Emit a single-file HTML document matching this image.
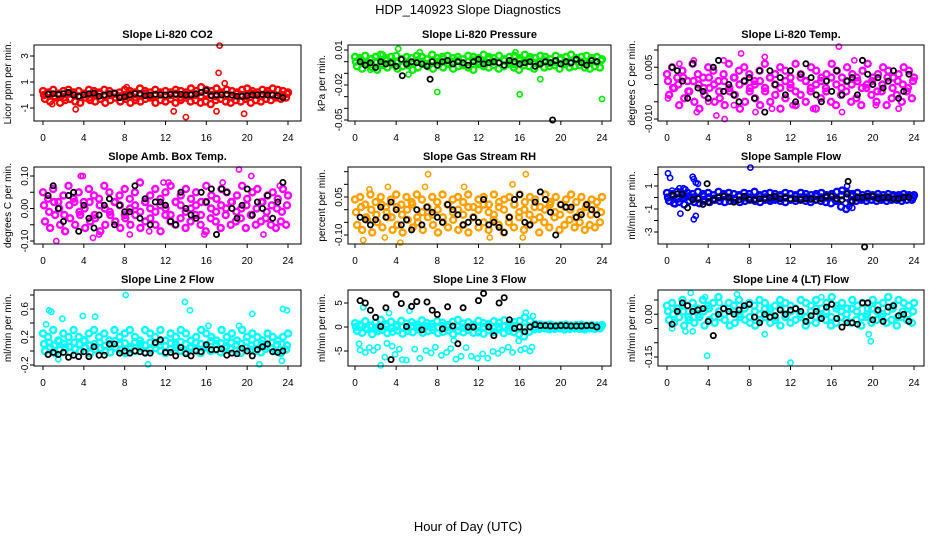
<!DOCTYPE html>
<html><head><meta charset="utf-8">
<style>
html,body{margin:0;padding:0;background:#fff;}
svg{display:block;font-family:"Liberation Sans",sans-serif;}
</style></head>
<body>
<svg id="chart" width="936" height="540" viewBox="0 0 936 540" xmlns="http://www.w3.org/2000/svg">
<text x="468" y="14" text-anchor="middle" font-size="13">HDP_140923  Slope Diagnostics</text>
<text x="468" y="531" text-anchor="middle" font-size="13">Hour of Day (UTC)</text>
</svg>
<script>
// ---- data arrays ----
const xTicks = [0,4,8,12,16,20,24];
const titles = ["Slope Li-820 CO2","Slope Li-820 Pressure","Slope Li-820 Temp.","Slope Amb. Box Temp.","Slope Gas Stream RH","Slope Sample Flow","Slope Line 2 Flow","Slope Line 3 Flow","Slope Line 4 (LT) Flow"];
const yTitles = ["Licor ppm per min.","kPa per min.","degrees C per min.","degrees C per min.","percent per min.","ml/min per min.","ml/min per min.","ml/min per min.","ml/min per min."];
const colors = ["#ff0000","#00ee00","#ff00ff","#ff00ff","#ffa000","#0000ff","#00ffff","#00ffff","#00ffff"];

const yTicks1=[-1,0,1,2,3], yLabels1=["-1","","1","","3"];
const yTicks2=[0.01,0,-0.01,-0.02,-0.03,-0.04,-0.05], yLabels2=["0.01","","","-0.02","","","-0.05"];
const yTicks3=[0.01,0.005,0,-0.005,-0.01], yLabels3=["","0.005","","","-0.010"];
const yTicks4=[0.1,0.05,0,-0.05,-0.1], yLabels4=["0.10","","0.00","","-0.10"];
const yTicks5=[0.15,0.1,0.05,0,-0.05,-0.1], yLabels5=["","","0.05","","","-0.10"];
const yTicks6=[2,1,0,-1,-2,-3], yLabels6=["","1","","-1","","-3"];
const yTicks7=[0.8,0.6,0.4,0.2,0,-0.2], yLabels7=["","0.6","","0.2","","-0.2"];
const yTicks8=[5,0,-5], yLabels8=["5","0","-5"];
const yTicks9=[0.05,0,-0.05,-0.1,-0.15], yLabels9=["","0.00","","","-0.15"];

const ca1=[0.3,0.2,0.4,0.1,0.3,0.4,0.2,0.3,0.1,0.4,0.3,0.2,0.4,0.3,0.1,0.2,0.4,0.3,0.2,0.5,0.3,0.2,0.4,0.1,0.3,0.2,0.4,0.3,0.2,0.5,0.3,0.6,0.4,0.3,0.5,0.2,0.4,0.3,0.2,0.4,0.5,0.3,0.2,0.4,0.3,0.5,0.4,0.3,0.2];
const cb1=[-0.3,-0.5,-0.2,-0.6,-0.4,-0.3,-0.5,-0.6,-0.2,-0.4,-0.5,-0.3,-0.6,-0.4,-0.2,-0.5,-0.3,-0.6,-0.4,-0.5,-0.3,-0.2,-0.6,-0.4,-0.5,-0.3,-0.6,-0.4,-0.2,-0.5,-0.4,-0.6,-0.5,-0.7,-0.4,-0.3,-0.5,-0.6,-0.4,-0.5,-0.3,-0.6,-0.4,-0.5,-0.3,-0.4,-0.2,-0.3,-0.2];
const cc1=[0,0.1,-0.1,0,-0.2,0.1,0,-0.1,0.1,-0.2,0,0.1,-0.1,0,0.1,-0.1,0,0.1,-0.2,0,0.1,-0.1,0,0.2,-0.1,0,0.1,-0.2,0,0.1,0,-0.1,0.1,0,-0.1,0.1,0,-0.2,0.1,0,-0.1,0.1,0,-0.1,0.1,0,-0.1,0,0.1];
const ox1=[17.3,17.2,3.2,12.8,14,17,19.7,17.8,8.2,0.9];
const oy1=[3.8,1.7,-1.1,-1.25,-1.7,-1.25,-1.45,0.9,0.6,-0.7];
const k1=[0.05,0.1,0.05,0.1,0.2,0,-0.1,0,0.1,0.15,-0.1,0,0.1,0.15,-0.2,-0.15,0,0.1,0.1,-0.05,0,0.05,0,0,0.05,0.05,0.05,0,0,0.1,0.2,0.35,-0.05,0,0,0.05,0,-0.1,-0.1,-0.05,0,0,0.05,0,0,-0.05,-0.2];
const kox1=[], koy1=[];

const ca2=[0.004,0.003,0.005,0.002,0.004,0.006,0.003,0.004,0.005,0.002,0.004,0.003,0.005,0.004,0.002,0.006,0.003,0.004,0.005,0.003,0.004,0.002,0.005,0.004,0.003,0.006,0.004,0.003,0.005,0.002,0.004,0.005,0.003,0.006,0.004,0.003,0.005,0.004,0.002,0.005,0.003,0.004,0.006,0.003,0.004,0.005,0.003,0.004,0.002];
const cb2=[-0.004,-0.006,-0.002,-0.005,-0.007,-0.003,-0.005,-0.002,-0.006,-0.004,-0.003,-0.007,-0.005,-0.002,-0.004,-0.006,-0.003,-0.005,-0.002,-0.006,-0.004,-0.003,-0.005,-0.007,-0.002,-0.004,-0.005,-0.003,-0.006,-0.004,-0.002,-0.005,-0.007,-0.003,-0.004,-0.006,-0.002,-0.005,-0.004,-0.003,-0.006,-0.002,-0.005,-0.004,-0.003,-0.005,-0.006,-0.004,-0.005];
const cc2=[0,0.001,-0.001,0.002,0,-0.002,0.001,0,-0.001,0.002,0,-0.001,0.001,0,-0.002,0.001,0,0.002,-0.001,0,0.001,-0.002,0,0.001,0,-0.001,0.002,0,-0.001,0.001,0,-0.002,0.001,0,0.002,-0.001,0,0.001,-0.001,0,0.002,0,-0.001,0.001,0,-0.002,0.001,0,0.001];
const ox2=[4.2,6.3,16,24,8,18,2.7,5.2,1.5,15.6];
const oy2=[0.011,0.008,-0.028,-0.032,-0.026,-0.015,0.006,-0.011,-0.007,0.008];
const k2=[0,-0.003,-0.001,-0.005,0,-0.002,-0.001,-0.004,0.002,-0.002,0,-0.001,-0.002,-0.004,0,-0.003,0,0.001,-0.002,0,-0.001,-0.003,0,0.002,-0.002,-0.001,0,-0.001,-0.003,0.001,0,-0.002,-0.001,0,-0.004,-0.002,0,-0.001,0.001,-0.002,0,-0.001,0.002,-0.001,-0.003,0.001,0];
const kox2=[19.2,4.6,7.3], koy2=[-0.05,-0.012,-0.015];

const ca3=[0.003,0.005,0.002,0.004,0.001,0.006,0.003,0.002,0.005,0.004,0.001,0.003,0.006,0.002,0.004,0.005,0.003,0.001,0.004,0.006,0.002,0.003,0.005,0.004,0.002,0.006,0.003,0.001,0.005,0.004,0.002,0.003,0.006,0.004,0.002,0.005,0.003,0.001,0.004,0.006,0.002,0.003,0.005,0.004,0.002,0.003,0.005,0.004,0.002];
const cb3=[-0.003,-0.001,-0.006,-0.004,-0.002,-0.005,-0.007,-0.003,-0.001,-0.005,-0.004,-0.006,-0.002,-0.003,-0.007,-0.005,-0.001,-0.004,-0.006,-0.002,-0.005,-0.003,-0.007,-0.004,-0.001,-0.006,-0.003,-0.005,-0.002,-0.007,-0.004,-0.001,-0.005,-0.006,-0.003,-0.002,-0.005,-0.004,-0.006,-0.001,-0.003,-0.005,-0.002,-0.006,-0.004,-0.003,-0.005,-0.002,-0.004];
const cc3=[0.001,-0.001,0,0.002,-0.002,0.001,0,-0.001,0.002,0,-0.002,0.001,-0.001,0.002,0,0.001,-0.002,0,0.001,-0.001,0.002,0,-0.001,0.001,0,-0.002,0.002,0.001,-0.001,0,0.001,-0.002,0.002,0,-0.001,0.001,0,0.002,-0.001,0,0.001,-0.002,0,0.002,-0.001,0.001,0,-0.001,0.001];
const ox3=[7.2,16.7,5.6,4.8,2.9,17,10.2,0.1,2.6,5.5,14.2,9.5,12.2,20.3,22.5,8.6,4,6.5,1.2,18.2];
const oy3=[0.009,0.011,-0.010,-0.009,-0.008,-0.008,-0.007,-0.004,0.007,0.007,-0.007,0.008,-0.006,-0.006,-0.007,-0.008,-0.005,-0.006,0.006,0.007];
const k3=[0.005,0.004,0.001,-0.004,0.006,-0.001,-0.002,-0.004,0.005,0.007,-0.002,0.000,-0.003,-0.005,0.001,0.002,-0.004,0.004,-0.008,0.004,0,0.002,-0.003,0.004,-0.005,0.003,0.006,0.002,-0.003,-0.005,0.001,-0.002,0.004,-0.003,0.001,0.002,-0.003,0.007,0.003,0,0.002,-0.001,0.001,0.004,-0.004,-0.002,0.003];
const kox3=[], koy3=[];

const ca4=[0.05,0.03,0.06,0.02,0.04,0.07,0.03,0.05,0.02,0.06,0.04,0.03,0.07,0.05,0.02,0.04,0.06,0.03,0.05,0.08,0.02,0.04,0.06,0.03,0.05,0.07,0.02,0.04,0.06,0.03,0.05,0.02,0.07,0.04,0.03,0.06,0.05,0.02,0.04,0.07,0.03,0.05,0.06,0.02,0.04,0.05,0.03,0.06,0.04];
const cb4=[-0.04,-0.06,-0.02,-0.05,-0.07,-0.03,-0.05,-0.02,-0.06,-0.04,-0.03,-0.07,-0.05,-0.02,-0.04,-0.06,-0.03,-0.05,-0.02,-0.06,-0.04,-0.03,-0.05,-0.07,-0.02,-0.04,-0.05,-0.03,-0.06,-0.04,-0.02,-0.05,-0.07,-0.03,-0.04,-0.06,-0.02,-0.05,-0.04,-0.03,-0.06,-0.02,-0.05,-0.04,-0.03,-0.05,-0.06,-0.04,-0.05];
const cc4=[0.01,-0.01,0.02,0,-0.02,0.01,0.02,-0.01,0,0.02,-0.02,0.01,0,-0.01,0.02,0.01,-0.02,0,0.01,-0.01,0.02,0,-0.01,0.01,0,-0.02,0.02,0.01,-0.01,0,0.01,-0.02,0.02,0,-0.01,0.01,0,0.02,-0.01,0,0.01,-0.02,0,0.02,-0.01,0.01,0,-0.01,0.01];
const ox4=[1.3,3.7,3.9,19.2,5.5,11.8,15.8,20.4,8.5,21.6,12.3,2.2,10.4,17.6,4.9,23.2];
const oy4=[-0.10,0.10,0.10,0.12,-0.08,0.08,-0.08,0.10,-0.08,-0.08,0.08,-0.07,-0.07,0.08,-0.09,0.07];
const k4=[0.04,0.07,0,-0.04,0.04,0.05,-0.07,0.01,-0.03,-0.06,-0.02,0.01,0.03,-0.05,0.01,-0.01,-0.01,0.07,-0.03,0.03,-0.05,0.02,0.02,0.01,-0.04,-0.05,0.05,0,-0.02,-0.03,0.05,0.02,0.06,-0.08,0.06,0.05,0,-0.03,0.01,0.06,-0.02,0.02,0,0.04,-0.03,0.02,0.08];
const kox4=[], koy4=[];

const ca5=[0.04,0.05,0.02,0.06,0.03,0.05,0.01,0.04,0.06,0.02,0.05,0.03,0.06,0.04,0.01,0.05,0.03,0.06,0.02,0.04,0.05,0.03,0.06,0.01,0.04,0.05,0.02,0.06,0.03,0.04,0.05,0.02,0.06,0.03,0.05,0.04,0.01,0.06,0.03,0.05,0.02,0.04,0.06,0.03,0.05,0.02,0.04,0.03,0.05];
const cb5=[-0.06,-0.08,-0.04,-0.09,-0.05,-0.07,-0.03,-0.08,-0.06,-0.09,-0.04,-0.07,-0.05,-0.08,-0.03,-0.06,-0.09,-0.05,-0.07,-0.04,-0.08,-0.06,-0.09,-0.03,-0.07,-0.05,-0.08,-0.04,-0.06,-0.09,-0.05,-0.07,-0.03,-0.08,-0.06,-0.04,-0.09,-0.05,-0.07,-0.03,-0.08,-0.06,-0.04,-0.07,-0.05,-0.08,-0.06,-0.07,-0.05];
const cc5=[-0.01,0.01,-0.03,0,-0.02,0.02,-0.01,-0.03,0.01,-0.02,0,0.02,-0.03,-0.01,0.01,-0.02,0,-0.03,0.02,-0.01,0,-0.02,0.01,-0.03,0,0.02,-0.01,-0.02,0.01,0,-0.03,0.02,-0.01,0,-0.02,0.01,-0.03,0,0.02,-0.01,-0.02,0.01,0,-0.03,-0.01,0.01,-0.02,0,-0.01];
const ox5=[0.8,2.9,4.4,7.1,6.8,10.6,13.1,16.6,15.3,16.3,3.2,1.4];
const oy5=[-0.12,-0.11,-0.13,0.14,0.09,0.09,-0.11,0.14,0.10,-0.11,0.09,0.08];
const k5=[-0.03,-0.04,-0.06,-0.04,0.01,-0.03,0.03,0.0,-0.06,-0.04,-0.08,0.0,-0.06,0.01,-0.01,-0.03,-0.05,0.02,0.0,-0.02,-0.06,-0.05,-0.03,-0.05,0.04,-0.06,-0.05,-0.07,-0.09,-0.03,0.04,0.06,-0.05,-0.06,0.03,0.07,0.04,-0.01,-0.10,0.02,0.01,0.01,-0.03,-0.02,0.02,0.0,-0.02];
const kox5=[], koy5=[];

const ca6=[0.4,0.3,0.5,0.2,0.4,0.3,0.5,0.3,0.4,0.2,0.5,0.3,0.4,0.3,0.2,0.4,0.3,0.5,0.2,0.3,0.4,0.3,0.2,0.4,0.3,0.2,0.4,0.3,0.2,0.3,0.4,0.2,0.3,0.5,0.6,0.4,0.3,0.4,0.2,0.3,0.2,0.3,0.2,0.3,0.2,0.2,0.3,0.2,0.2];
const cb6=[-0.3,-0.5,-0.4,-0.6,-0.3,-0.4,-0.5,-0.3,-0.4,-0.2,-0.3,-0.4,-0.3,-0.2,-0.4,-0.3,-0.2,-0.3,-0.4,-0.2,-0.3,-0.2,-0.3,-0.4,-0.2,-0.3,-0.2,-0.3,-0.4,-0.2,-0.3,-0.4,-0.5,-0.3,-0.8,-1.0,-0.4,-0.3,-0.2,-0.3,-0.2,-0.3,-0.2,-0.3,-0.2,-0.2,-0.3,-0.2,-0.2];
const cc6=[0,0.1,-0.1,0,0.1,0,-0.1,0.1,0,-0.1,0,0.1,0,-0.1,0.1,0,0,-0.1,0.1,0,-0.1,0,0.1,0,-0.1,0.1,0,0,-0.1,0.1,0,0,0.1,-0.1,0.2,0,0.1,0,-0.1,0,0.1,0,-0.1,0,0.1,0,0,0.1,0];
const ox6=[0.1,0.3,0.5,1.2,2.5,2.6,2.8,3,1.3,2.8,2.6,8.1,17.5,17.7,18,1.8,1.6,0.8];
const oy6=[2.1,1.7,0.6,0.8,1.8,1.6,1.3,1.2,-1.4,-1.6,-1.9,2.6,1.0,-0.8,-0.9,0.7,0.8,-0.6];
const k6=[0.2,0.3,0.3,-0.9,-0.2,-0.1,-0.6,-0.4,-0.2,0.0,0.1,0.0,-0.4,-0.2,0.1,-0.2,-0.2,-0.1,-0.1,0.0,0.1,-0.1,0.0,-0.1,-0.1,-0.2,-0.1,-0.1,-0.2,-0.1,0.1,0.1,-0.1,-0.2,0.3,-0.3,0.0,0.0,0.1,0.1,-0.1,0.0,0.0,-0.1,-0.1,0.0,0.0];
const kox6=[19.2,3.9,17.6], koy6=[-4.3,1.2,1.4];

const ca7=[0.25,0.2,0.3,0.15,0.25,0.2,0.3,0.2,0.15,0.25,0.3,0.2,0.25,0.15,0.3,0.2,0.25,0.3,0.2,0.15,0.3,0.25,0.2,0.3,0.15,0.25,0.2,0.3,0.25,0.15,0.2,0.3,0.25,0.2,0.15,0.3,0.2,0.25,0.15,0.3,0.2,0.25,0.2,0.15,0.25,0.2,0.15,0.2,0.25];
const cb7=[0,0.05,-0.03,0.02,0.05,-0.02,0.03,0,0.05,-0.03,0.02,0.04,0,-0.02,0.05,0.02,-0.03,0.03,0,0.05,-0.02,0.02,0.04,0,-0.03,0.03,0.05,0,-0.02,0.04,0.02,-0.03,0.05,0,0.02,-0.02,0.04,0.03,0,-0.03,0.05,0.02,0,-0.02,0.03,0.04,0,-0.03,0.02];
const cc7=[0.1,0.12,0.08,0.14,0.1,0.06,0.12,0.1,0.15,0.08,0.1,0.12,0.07,0.1,0.14,0.09,0.11,0.06,0.13,0.1,0.08,0.12,0.1,0.14,0.07,0.11,0.09,0.13,0.1,0.06,0.12,0.1,0.08,0.14,0.1,0.11,0.07,0.12,0.09,0.1,0.13,0.08,0.11,0.1,0.07,0.12,0.09,0.1,0.08];
const ox7=[0.6,0.8,8.1,20.5,1.9,3.9,0.3,13.9,14.4,16.2,19.2,23.9,5.1,21.2,23.4,1.5,10.3,23.5];
const oy7=[0.58,0.56,0.8,0.53,0.46,0.5,0.38,0.7,0.58,0.36,0.36,0.58,0.49,-0.19,-0.14,-0.12,-0.19,0.6];
const k7=[-0.05,-0.02,-0.05,-0.02,-0.09,-0.06,-0.08,-0.01,-0.08,0.06,-0.06,-0.06,0.1,0.1,-0.03,0,-0.03,0,-0.01,-0.03,-0.03,0.12,0.16,-0.02,-0.02,-0.07,0.05,-0.04,-0.07,0,-0.01,0.09,0.02,0.02,0.03,-0.06,-0.03,-0.04,0.04,0,-0.07,0.02,0.06,0.1,-0.01,-0.02,0.0];
const kox7=[], koy7=[];

const ca8=[0.8,0.5,1.2,0.3,0.9,1.5,0.6,1.1,0.4,1.3,0.7,1.0,0.5,1.4,0.8,0.6,1.2,0.9,0.4,1.1,1.5,0.7,1.0,0.5,1.3,0.8,0.6,1.2,0.9,1.4,0.7,1.0,1.3,2.0,1.2,0.6,0.5,0.4,0.5,0.3,0.4,0.5,0.3,0.4,0.5,0.3,0.4,0.3,0.4];
const cb8=[-0.8,-1.2,-0.5,-1.5,-0.9,-0.6,-1.3,-1.0,-0.7,-1.4,-0.8,-1.1,-0.5,-1.2,-0.9,-0.6,-1.3,-1.0,-0.7,-1.5,-0.8,-1.1,-0.6,-1.2,-0.9,-1.4,-0.7,-1.0,-0.5,-1.3,-0.8,-1.1,-1.5,-2.0,-1.0,-0.5,-0.4,-0.3,-0.5,-0.4,-0.3,-0.5,-0.4,-0.3,-0.4,-0.5,-0.3,-0.4,-0.3];
const cc8=[0,0.2,-0.2,0.1,-0.1,0,0.2,-0.2,0.1,0,-0.1,0.2,0,-0.2,0.1,0,-0.1,0.2,0,-0.2,0.1,-0.1,0,0.2,-0.1,0,0.1,-0.2,0,0.1,-0.1,0.2,0,-0.1,0.1,0,-0.1,0.1,0,-0.1,0.1,0,-0.1,0.1,0,-0.1,0,0.1,0];
const ox8=[0.4,0.5,1.0,1.4,1.8,2.2,2.5,2.9,3.1,3.6,3.9,4.3,4.6,5.0,5.8,6.3,6.9,7.4,7.8,8.4,8.9,9.3,9.8,10.3,10.8,11.3,11.9,12.4,12.9,13.4,13.9,14.3,14.9,15.3,16.1,16.5,17.2,0.8,2.0,3.3,5.3,9.6,12.0,17.0,17.3,16.6,15.9];
const oy8=[-3.5,-4.8,-5.3,-4.3,-4.9,-4.2,-8.0,-6.3,-3.4,-4.0,-5.7,-4.6,-6.8,-6.9,-4.6,-6.5,-4.9,-5.4,-4.2,-5.9,-5.3,-4.5,-6.7,-6.1,-4.3,-6.1,-6.5,-5.6,-6.5,-5.1,-5.5,-4.8,-4.2,-5.3,-4.8,-4.5,-4.2,4.1,-0.6,2.9,3.4,-2.8,-1.3,-5.0,2.3,3.0,-2.9];
const k8=[5.5,5.0,3.5,2.0,0.1,4.0,-6.8,6.8,4.9,0.1,4.3,5.3,-0.6,5.2,3.5,2.6,-0.4,4.2,0.2,-3.5,4.0,0.0,0.0,5.5,7.0,0.0,-1.8,5.0,6.1,1.5,-0.3,0.0,-1.0,0.0,0.5,0.3,0.3,0.2,0.2,0.3,0.3,0.2,0.2,0.2,0.3,0.3,0.0];
const kox8=[], koy8=[];

const ca9=[0.03,0.04,0.02,0.05,0.03,0.04,0.02,0.05,0.03,0.04,0.06,0.02,0.04,0.03,0.05,0.02,0.04,0.03,0.05,0.04,0.02,0.03,0.05,0.04,0.03,0.02,0.05,0.04,0.03,0.05,0.02,0.04,0.06,0.03,0.04,0.02,0.05,0.03,0.04,0.02,0.05,0.03,0.04,0.06,0.03,0.05,0.04,0.03,0.04];
const cb9=[-0.02,-0.03,-0.01,-0.04,-0.02,-0.03,-0.01,-0.04,-0.02,-0.03,-0.01,-0.02,-0.04,-0.03,-0.01,-0.02,-0.03,-0.04,-0.02,-0.01,-0.03,-0.02,-0.04,-0.01,-0.03,-0.02,-0.01,-0.04,-0.02,-0.03,-0.01,-0.02,-0.04,-0.03,-0.01,-0.02,-0.03,-0.02,-0.04,-0.01,-0.03,-0.02,-0.01,-0.03,-0.02,-0.04,-0.01,-0.02,-0.03];
const cc9=[0.01,0,0.02,0.01,-0.01,0.02,0,0.01,0.02,-0.01,0.01,0,0.02,0.01,0,0.02,-0.01,0.01,0,0.02,0.01,-0.01,0.02,0,0.01,0.02,0,-0.01,0.01,0.02,0,0.01,-0.01,0.02,0.01,0,0.02,0.01,-0.01,0,0.02,0.01,0,0.01,0.02,-0.01,0.01,0,0.01];
const ox9=[3.9,12.0,2.3,6.8,0.5,1.8,2.5,9.5,15,19.6,19.8,3.7,5.1];
const oy9=[-0.145,-0.17,0.075,0.07,-0.05,-0.06,-0.06,-0.07,0.06,-0.07,-0.095,0.06,0.04];
const k9=[-0.035,0.01,0.04,0.03,0.01,0.015,0.02,-0.025,-0.075,0.0,0.02,0.01,0.0,0.015,0.03,0.035,-0.01,-0.03,0.0,-0.01,-0.005,0.015,0.0,0.015,0.02,0.01,-0.025,-0.005,0.01,-0.015,0.025,0.035,-0.015,-0.045,-0.03,-0.03,-0.035,0.04,0.04,-0.02,0.015,-0.025,0.025,0.03,-0.005,0.0,-0.025];
const kox9=[], koy9=[];

const series = [
 {ca:ca1,cb:cb1,cc:cc1,ox:ox1,oy:oy1,k:k1,kox:kox1,koy:koy1,yt:yTicks1,yl:yLabels1},
 {ca:ca2,cb:cb2,cc:cc2,ox:ox2,oy:oy2,k:k2,kox:kox2,koy:koy2,yt:yTicks2,yl:yLabels2},
 {ca:ca3,cb:cb3,cc:cc3,ox:ox3,oy:oy3,k:k3,kox:kox3,koy:koy3,yt:yTicks3,yl:yLabels3},
 {ca:ca4,cb:cb4,cc:cc4,ox:ox4,oy:oy4,k:k4,kox:kox4,koy:koy4,yt:yTicks4,yl:yLabels4},
 {ca:ca5,cb:cb5,cc:cc5,ox:ox5,oy:oy5,k:k5,kox:kox5,koy:koy5,yt:yTicks5,yl:yLabels5},
 {ca:ca6,cb:cb6,cc:cc6,ox:ox6,oy:oy6,k:k6,kox:kox6,koy:koy6,yt:yTicks6,yl:yLabels6},
 {ca:ca7,cb:cb7,cc:cc7,ox:ox7,oy:oy7,k:k7,kox:kox7,koy:koy7,yt:yTicks7,yl:yLabels7},
 {ca:ca8,cb:cb8,cc:cc8,ox:ox8,oy:oy8,k:k8,kox:kox8,koy:koy8,yt:yTicks8,yl:yLabels8},
 {ca:ca9,cb:cb9,cc:cc9,ox:ox9,oy:oy9,k:k9,kox:kox9,koy:koy9,yt:yTicks9,yl:yLabels9}
];

// ---- layout (pixels) ----
const cols=[{bl:34,br:301,x0:43,x24:288},{bl:348,br:611,x0:355,x24:602},{bl:658,br:924,x0:667,x24:914}];
const rows=[{bt:45,bb:121},{bt:167,bb:244},{bt:290,bb:366}];
const ycal=[[3,56,-1,108],[0.01,50,-0.05,120],[0.01,50,-0.01,119],[0.1,176,-0.1,241],[0.05,197,-0.1,235],[1,186,-3,232],[0.6,309,-0.2,365],[5,303,-5,351],[0.05,300,-0.15,357]];

const NS="http://www.w3.org/2000/svg";
const svg=document.getElementById('chart');
function mk(tag,attrs,parent){const e=document.createElementNS(NS,tag);for(const a in attrs)e.setAttribute(a,attrs[a]);(parent||svg).appendChild(e);return e;}

series.forEach((s,i)=>{
  const c=cols[i%3], r=rows[Math.floor(i/3)], yc=ycal[i];
  const xs=h=>c.x0+(h/24)*(c.x24-c.x0);
  const ys=v=>yc[1]+(v-yc[0])*(yc[3]-yc[1])/(yc[2]-yc[0]);
  const g=mk('g',{});
  
  
  const t=mk('text',{x:(c.bl+c.br)/2,y:r.bt-7,'text-anchor':'middle','font-size':11,'font-weight':'bold'},g);
  t.textContent=titles[i];
  
  
  const yt=mk('text',{transform:`translate(${c.bl-23},${(r.bt+r.bb)/2}) rotate(-90)`,'text-anchor':'middle','font-size':10},g);
  yt.textContent=yTitles[i];
  
  
  const pts=mk('g',{fill:'none'},g);
  
  
  const drawArr=(arr,x0,x1,col,rad,sw)=>{arr.forEach((v,j)=>{const h=x0+(x1-x0)*j/(arr.length-1);
    const p=mk('circle',{cx:xs(h).toFixed(1),cy:ys(v).toFixed(1),r:rad,stroke:col,'stroke-width':sw},pts);
    
    });};
  drawArr(s.ca,0,24,colors[i],3,2.4);
  drawArr(s.cb,0.2,23.8,colors[i],3,2.4);
  drawArr(s.cc,0.1,23.9,colors[i],3,2.4);
  s.ox.forEach((h,j)=>{const p=mk('circle',{cx:xs(h).toFixed(1),cy:ys(s.oy[j]).toFixed(1),r:2.6,stroke:colors[i],'stroke-width':1.6},pts);
    
    });
  drawArr(s.k,0.5,23.5,'#000',2.6,1.8);
  s.kox.forEach((h,j)=>{const p=mk('circle',{cx:xs(h).toFixed(1),cy:ys(s.koy[j]).toFixed(1),r:2.6,stroke:'#000','stroke-width':1.8},pts);
    
    });
  const b=mk('rect',{x:c.bl,y:r.bt,width:c.br-c.bl,height:r.bb-r.bt,fill:'none',stroke:'#000','stroke-width':1},g);
  
  
  xTicks.forEach(v=>{const x=xs(v);
    mk('line',{x1:x,x2:x,y1:r.bb,y2:r.bb+4,stroke:'#000'},g);
    const l=mk('text',{x:x,y:r.bb+20,'text-anchor':'middle','font-size':10},g);
    l.textContent=v;
    
    });
  s.yt.forEach((v,j)=>{const y=ys(v);
    mk('line',{x1:c.bl-4,x2:c.bl,y1:y,y2:y,stroke:'#000'},g);
    if(s.yl[j]){const l=mk('text',{transform:`translate(${c.bl-6},${y}) rotate(-90)`,'text-anchor':'middle','font-size':10},g);
      l.textContent=s.yl[j];
      
      }});
});
</script>
</body></html>
